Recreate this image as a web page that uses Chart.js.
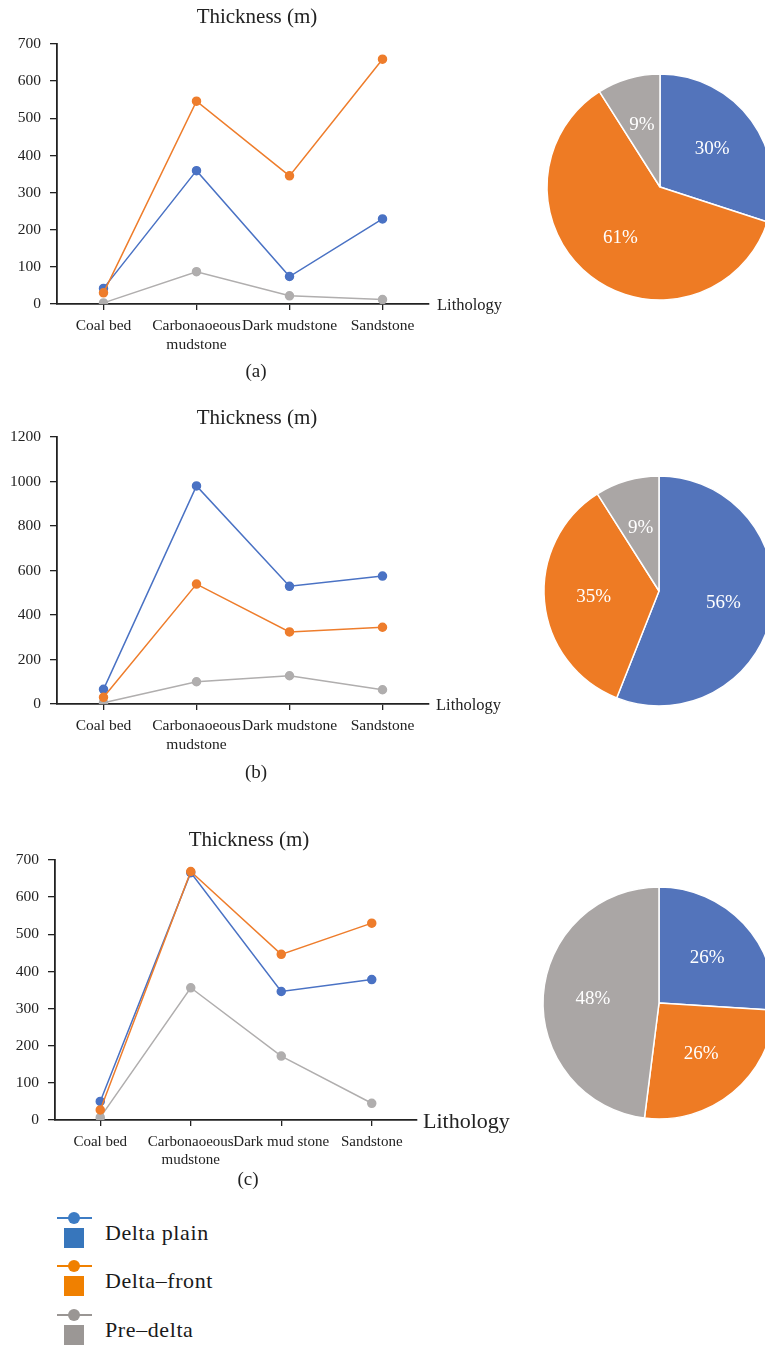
<!DOCTYPE html>
<html>
<head>
<meta charset="utf-8">
<script src="https://cdn.jsdelivr.net/npm/chart.js@4.4.0/dist/chart.umd.min.js"></script>
<style>
  html, body { margin: 0; padding: 0; background: #fff; overflow: hidden; }
  #page { position: relative; width: 765px; height: 1346px; overflow: hidden; }
  canvas { position: absolute; }
  .key { position: absolute; left: 0; font-family: "Liberation Serif", serif; font-size: 22px; color: #1a1a1a; }
  .key .ln { position: absolute; left: 57px; width: 35px; height: 1.5px; }
  .key .dot { position: absolute; left: 68px; width: 12px; height: 12px; border-radius: 50%; }
  .key .sq { position: absolute; left: 64px; width: 20px; height: 20px; }
  .key .tx { position: absolute; left: 105px; white-space: nowrap; letter-spacing: 0.6px; }
</style>
</head>
<body>
<div id="page">
  <canvas id="lineA" width="520" height="390" style="left:0;top:0"></canvas>
  <canvas id="lineB" width="520" height="390" style="left:0;top:400px"></canvas>
  <canvas id="lineC" width="540" height="380" style="left:0;top:820px"></canvas>
  <canvas id="pieA" width="250" height="250" style="left:535px;top:62px"></canvas>
  <canvas id="pieB" width="250" height="250" style="left:534px;top:466px"></canvas>
  <canvas id="pieC" width="250" height="250" style="left:534px;top:878px"></canvas>
  <div id="key"></div>
</div>
<script>
// Lithology categories along the x axis
const lithology = ['Coal bed', ['Carbonaoeous', 'mudstone'], 'Dark mudstone', 'Sandstone'];
const lithologyC = ['Coal bed', ['Carbonaoeous', 'mudstone'], 'Dark mud stone', 'Sandstone'];
const faciesNames = ['Delta plain', 'Delta\u2013front', 'Pre\u2013delta'];

// Thickness (m) per lithology, panel (a)
const plainA = [42, 359, 74, 229];
const frontA = [30, 546, 345, 659];
const preA = [3, 87, 22, 12];
// panel (b)
const plainB = [66, 980, 529, 575];
const frontB = [30, 539, 324, 345];
const preB = [6, 100, 127, 64];
// panel (c)
const plainC = [50, 666, 346, 378];
const frontC = [27, 669, 446, 530];
const preC = [7, 356, 172, 45];

// Share of total thickness by facies (%)
const shareA = [30, 61, 9];
const shareB = [56, 35, 9];
const shareC = [26, 26, 48];

// y axis ranges
const yMaxA = 700, yStepA = 100;
const yMaxB = 1200, yStepB = 200;
const yMaxC = 700, yStepC = 100;

const SERIF = '"Liberation Serif", "Times New Roman", serif';
const INK = '#222222';
const lineColors = ['#4a72c4', '#ee7d2c', '#b0aeae'];
const pieColors = ['#5374bb', '#ee7b24', '#aaa6a5'];
const keyColors = [['#3d7cc4', '#3776bc'], ['#f08000', '#f08000'], ['#9a9694', '#9b9795']];

// Draws the title, the caption and the "Lithology" axis name
const panelText = {
  id: 'panelText',
  afterDraw(chart, args, o) {
    const ctx = chart.ctx, ca = chart.chartArea;
    ctx.save();
    ctx.fillStyle = INK;
    ctx.textBaseline = 'middle';
    ctx.textAlign = 'center';
    ctx.font = o.titleSize + 'px ' + SERIF;
    ctx.fillText('Thickness (m)', o.titleX, o.titleY);
    ctx.font = '19px ' + SERIF;
    ctx.fillText(o.caption, o.captionX, o.captionY);
    ctx.textAlign = 'left';
    ctx.font = o.lithSize + 'px ' + SERIF;
    ctx.fillText('Lithology', ca.right + o.lithGap, ca.bottom + 2);
    ctx.restore();
  }
};

function lineChart(id, labels, series, yMax, yStep, g) {
  const orders = [1, 0, 2];
  return new Chart(document.getElementById(id), {
    type: 'line',
    data: {
      labels: labels,
      datasets: series.map((vals, i) => ({
        label: faciesNames[i],
        data: vals,
        order: orders[i],
        borderColor: lineColors[i],
        backgroundColor: lineColors[i],
        pointBackgroundColor: lineColors[i],
        pointBorderColor: lineColors[i],
        borderWidth: 1.5,
        pointRadius: 4,
        tension: 0
      }))
    },
    options: {
      responsive: false,
      animation: false,
      layout: { padding: { top: g.top, right: g.right, left: 0, bottom: 0 } },
      plugins: {
        legend: { display: false },
        tooltip: { enabled: false },
        panelText: g.text
      },
      scales: {
        x: {
          type: 'category',
          offset: true,
          grid: { display: true, offset: false, drawOnChartArea: false, drawTicks: true, tickLength: 6, color: INK, lineWidth: 1.3 },
          border: { display: true, color: INK, width: 1.8 },
          ticks: { color: INK, font: { family: SERIF, size: g.xFont, lineHeight: 1.2 }, padding: 7, maxRotation: 0, autoSkip: false },
          afterFit(s) { s.height = g.h - g.bottom; }
        },
        y: {
          min: 0,
          max: yMax,
          ticks: { stepSize: yStep, color: INK, font: { family: SERIF, size: 15.5 }, padding: 9, format: { useGrouping: false } },
          grid: { display: true, drawOnChartArea: false, drawTicks: true, tickLength: 7, color: INK, lineWidth: 1.3 },
          border: { display: true, color: INK, width: 1.8 },
          afterFit(s) { s.width = g.left; }
        }
      }
    },
    plugins: [panelText]
  });
}

lineChart('lineA', lithology, [plainA, frontA, preA], yMaxA, yStepA, {
  h: 390, top: 44, bottom: 304, left: 57, right: 91, xFont: 15.5,
  text: { titleX: 257, titleY: 17, titleSize: 21, caption: '(a)', captionX: 256, captionY: 372, lithSize: 16.5, lithGap: 8 }
});
lineChart('lineB', lithology, [plainB, frontB, preB], yMaxB, yStepB, {
  h: 390, top: 37, bottom: 304, left: 57, right: 91, xFont: 15.5,
  text: { titleX: 257, titleY: 18, titleSize: 21, caption: '(b)', captionX: 256, captionY: 373, lithSize: 16.5, lithGap: 7 }
});
lineChart('lineC', lithologyC, [plainC, frontC, preC], yMaxC, yStepC, {
  h: 380, top: 40, bottom: 300, left: 55, right: 123, xFont: 15,
  text: { titleX: 249, titleY: 20, titleSize: 21, caption: '(c)', captionX: 248, captionY: 360, lithSize: 22, lithGap: 6 }
});

// Percentage labels inside the pie slices
const sliceLabels = {
  id: 'sliceLabels',
  afterDatasetsDraw(chart) {
    const ctx = chart.ctx;
    const meta = chart.getDatasetMeta(0);
    const vals = chart.data.datasets[0].data;
    ctx.save();
    ctx.fillStyle = '#ffffff';
    ctx.font = '19px ' + SERIF;
    ctx.textAlign = 'center';
    ctx.textBaseline = 'middle';
    meta.data.forEach((arc, i) => {
      const p = arc.getProps(['x', 'y', 'startAngle', 'endAngle', 'outerRadius'], true);
      const mid = (p.startAngle + p.endAngle) / 2;
      const r = p.outerRadius * 0.57;
      ctx.fillText(vals[i] + '%', p.x + Math.cos(mid) * r, p.y + Math.sin(mid) * r);
    });
    ctx.restore();
  }
};

function pieChart(id, shares, radius) {
  return new Chart(document.getElementById(id), {
    type: 'pie',
    data: {
      labels: faciesNames,
      datasets: [{
        data: shares,
        backgroundColor: pieColors,
        borderColor: '#ffffff',
        borderWidth: 1.5
      }]
    },
    options: {
      responsive: false,
      animation: false,
      radius: radius,
      plugins: { legend: { display: false }, tooltip: { enabled: false } }
    },
    plugins: [sliceLabels]
  });
}

pieChart('pieA', shareA, 113);
pieChart('pieB', shareB, 115);
pieChart('pieC', shareC, 116);

// Shared key for the line and pie panels
const key = document.getElementById('key');
const keyTops = [1218, 1266, 1315];
faciesNames.forEach((name, i) => {
  const t = keyTops[i];
  const item = document.createElement('div');
  item.className = 'key';
  item.style.top = '0px';
  item.innerHTML =
    '<div class="ln" style="top:' + (t - 0.75) + 'px;background:' + keyColors[i][0] + '"></div>' +
    '<div class="dot" style="top:' + (t - 6) + 'px;background:' + keyColors[i][0] + '"></div>' +
    '<div class="sq" style="top:' + (t + 10) + 'px;background:' + keyColors[i][1] + '"></div>' +
    '<div class="tx" style="top:' + (t + 2) + 'px">' + name + '</div>';
  key.appendChild(item);
});
</script>
</body>
</html>
